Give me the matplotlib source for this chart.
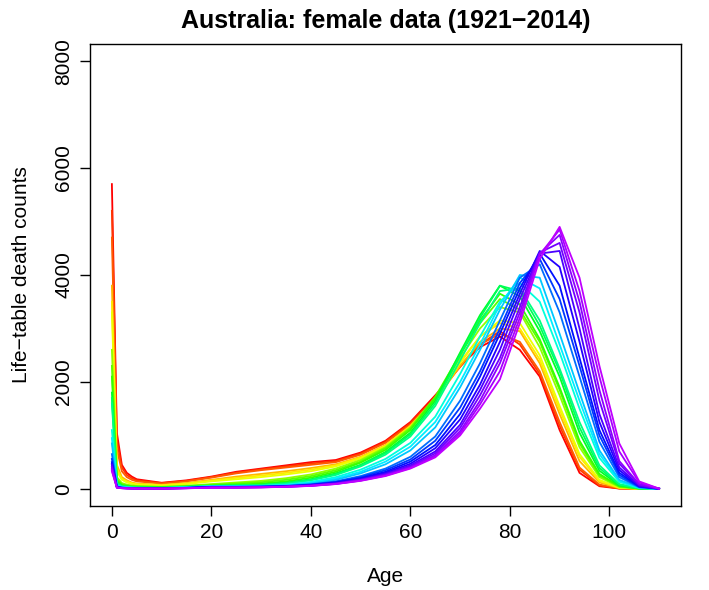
import matplotlib
matplotlib.use("Agg")
import matplotlib.pyplot as plt
from matplotlib.colors import hsv_to_rgb

plt.rcParams['font.family'] = ['Liberation Sans', 'DejaVu Sans']

ages = [0, 1, 2, 3, 4, 5, 10, 15, 20, 25, 30, 35, 40, 45, 50, 55, 60, 65,
        70, 74, 78, 82, 86, 90, 94, 98, 102, 106, 110]

# a selection of years out of 1921-2014
years = [1921, 1925, 1928, 1935, 1939, 1942, 1949, 1953, 1956, 1963, 1967, 1970,
         1977, 1981, 1984, 1991, 1995, 1998, 2002, 2005, 2008, 2010, 2012, 2014]

d1921 = [5700, 1050, 450, 300, 230, 180, 115, 160, 230, 320, 380, 440, 500, 540, 680, 900, 1250, 1750,
         2300, 2650, 2850, 2600, 2100, 1100, 300, 50, 6, 1, 0]
d1925 = [5200, 900, 400, 260, 200, 160, 108, 150, 220, 305, 365, 420, 475, 520, 660, 880, 1230, 1720,
         2280, 2700, 2950, 2700, 2150, 1180, 360, 65, 8, 1, 0]
d1928 = [4700, 750, 330, 220, 170, 140, 100, 140, 210, 290, 350, 400, 450, 500, 640, 860, 1200, 1700,
         2300, 2700, 2900, 2750, 2200, 1250, 400, 80, 10, 1, 0]
d1935 = [3800, 450, 220, 160, 120, 100, 75, 110, 170, 230, 280, 330, 390, 460, 600, 820, 1150, 1650,
         2300, 2750, 3000, 2950, 2350, 1400, 520, 120, 15, 2, 0]
d1939 = [3500, 380, 190, 140, 105, 90, 68, 100, 155, 205, 250, 300, 360, 440, 590, 810, 1180, 1680,
         2380, 2850, 3100, 3000, 2420, 1480, 600, 150, 20, 3, 0]
d1942 = [3300, 330, 170, 120, 95, 80, 60, 90, 140, 180, 220, 270, 330, 420, 570, 800, 1150, 1650,
         2350, 2850, 3150, 3100, 2500, 1550, 650, 170, 25, 3, 0]
d1949 = [2600, 220, 110, 80, 65, 55, 40, 60, 90, 120, 150, 200, 270, 380, 540, 780, 1150, 1700,
         2450, 3000, 3400, 3300, 2650, 1750, 780, 220, 35, 4, 0]
d1953 = [2300, 180, 90, 65, 52, 46, 34, 52, 78, 100, 125, 170, 240, 350, 510, 760, 1130, 1720,
         2520, 3100, 3550, 3350, 2750, 1850, 850, 250, 45, 5, 0]
d1956 = [2100, 150, 75, 55, 45, 40, 30, 45, 65, 80, 100, 140, 210, 320, 490, 730, 1100, 1700,
         2500, 3150, 3650, 3450, 2800, 1900, 900, 280, 50, 6, 0]
d1963 = [1800, 120, 60, 45, 35, 30, 25, 40, 55, 65, 80, 115, 180, 290, 450, 690, 1050, 1650,
         2550, 3250, 3800, 3600, 2950, 2100, 1050, 340, 65, 8, 0]
d1967 = [1700, 110, 55, 42, 33, 28, 22, 38, 56, 62, 75, 108, 170, 275, 440, 670, 1020, 1600,
         2500, 3200, 3800, 3700, 3050, 2200, 1150, 390, 78, 10, 0]
d1970 = [1600, 100, 50, 38, 30, 25, 20, 35, 55, 60, 70, 100, 160, 260, 420, 640, 980, 1550,
         2400, 3100, 3700, 3750, 3150, 2250, 1250, 440, 90, 12, 0]
d1977 = [1100, 70, 40, 30, 24, 20, 16, 30, 50, 50, 55, 80, 130, 220, 360, 560, 860, 1350,
         2150, 2850, 3500, 3850, 3500, 2550, 1500, 580, 130, 18, 1]
d1981 = [950, 62, 34, 26, 20, 17, 14, 28, 48, 48, 52, 72, 115, 195, 320, 510, 790, 1250,
         2000, 2700, 3450, 3950, 3750, 2700, 1650, 650, 150, 22, 1]
d1984 = [850, 55, 30, 22, 18, 15, 12, 25, 45, 45, 50, 65, 100, 170, 290, 460, 720, 1150,
         1900, 2600, 3350, 4000, 3950, 2900, 1800, 720, 170, 25, 1]
d1991 = [650, 45, 25, 18, 14, 12, 10, 22, 40, 40, 45, 55, 85, 140, 240, 380, 600, 980,
         1650, 2350, 3150, 3950, 4200, 3300, 2100, 880, 220, 32, 2]
d1995 = [560, 40, 22, 16, 12, 11, 9, 20, 38, 38, 42, 52, 80, 130, 220, 350, 550, 900,
         1520, 2200, 3000, 3850, 4300, 3550, 2300, 1000, 260, 38, 2]
d1998 = [500, 35, 20, 14, 11, 10, 8, 18, 35, 35, 40, 50, 75, 120, 200, 320, 510, 820,
         1400, 2100, 2900, 3750, 4400, 3800, 2450, 1100, 300, 45, 2]
d2002 = [470, 32, 18, 13, 10, 9, 7, 16, 32, 32, 37, 47, 70, 112, 185, 300, 470, 760,
         1300, 1950, 2750, 3650, 4450, 4150, 2750, 1250, 350, 52, 3]
d2005 = [450, 30, 16, 12, 10, 9, 7, 15, 30, 30, 35, 45, 65, 105, 175, 280, 440, 700,
         1200, 1850, 2600, 3550, 4400, 4450, 3000, 1400, 400, 60, 3]
d2008 = [410, 27, 15, 11, 9, 8, 6, 14, 27, 27, 32, 42, 62, 100, 168, 268, 420, 665,
         1140, 1750, 2450, 3400, 4420, 4600, 3300, 1650, 470, 78, 4]
d2010 = [380, 25, 14, 10, 8, 7, 6, 13, 25, 25, 30, 40, 60, 95, 160, 255, 400, 630,
         1080, 1650, 2350, 3300, 4400, 4750, 3500, 1850, 520, 90, 4]
d2012 = [350, 23, 13, 9, 7, 6, 5, 12, 23, 23, 29, 39, 57, 92, 155, 248, 390, 610,
         1040, 1580, 2200, 3200, 4380, 4850, 3700, 2100, 700, 120, 5]
d2014 = [330, 22, 12, 9, 7, 6, 5, 11, 22, 22, 28, 38, 55, 90, 150, 240, 380, 590,
         1000, 1500, 2050, 3100, 4300, 4900, 3950, 2300, 850, 140, 5]

curves = [d1921, d1925, d1928, d1935, d1939, d1942, d1949, d1953, d1956, d1963, d1967, d1970,
          d1977, d1981, d1984, d1991, d1995, d1998, d2002, d2005, d2008, d2010, d2012, d2014]

xticks = [0, 20, 40, 60, 80, 100]
yticks = [0, 2000, 4000, 6000, 8000]

W, H = 709, 590
fig = plt.figure(figsize=(W / 100, H / 100), dpi=100)
ax = fig.add_axes([90 / W, 1 - 506 / H, (681 - 90) / W, (506 - 44) / H])

# rainbow colours like R's rainbow(n*1.25)[1:n]
for yr, d in zip(years, curves):
    hue = (yr - 1921) / (94 * 1.25)
    ax.plot(ages, d, color=hsv_to_rgb((hue, 1, 1)), lw=1.3)

ax.set_xlim(-4.4, 114.4)
ax.set_ylim(-320, 8320)
ax.set_xticks(xticks)
ax.set_yticks(yticks)
ax.set_yticklabels([str(v) for v in yticks], rotation=90, va='center')
ax.tick_params(length=7, width=1, labelsize=15, pad=5)
for s in ax.spines.values():
    s.set_linewidth(1)

fig.text(385.5 / W, 1 - 21 / H, "Australia: female data (1921\u22122014)",
         ha='center', va='center', fontsize=18, fontweight='bold')
fig.text(385.5 / W, 1 - 576 / H, "Age", ha='center', va='center', fontsize=15)
fig.text(22 / W, 1 - 275 / H, "Life\u2212table death counts", ha='center', va='center',
         rotation=90, fontsize=15)

fig.savefig("out.png", dpi=100)
